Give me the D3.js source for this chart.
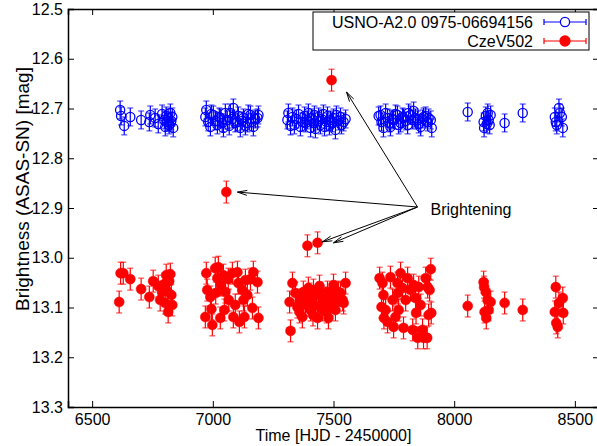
<!DOCTYPE html>
<html><head><meta charset="utf-8">
<script src="https://cdn.jsdelivr.net/npm/d3@7"></script>
<style>
body{margin:0;background:#fff;}
text{font-family:"Liberation Sans",Arial,sans-serif;}
</style></head>
<body><svg id="c" width="597" height="446"></svg>
<script>
// ---- data ----
const seriesNames = ["USNO-A2.0 0975-06694156", "CzeV502"];
const xTicks = [6500, 7000, 7500, 8000, 8500];
const yTicks = [12.5, 12.6, 12.7, 12.8, 12.9, 13.0, 13.1, 13.2, 13.3];
const yTickLabels = ["12.5","12.6","12.7","12.8","12.9","13.0","13.1","13.2","13.3"];

const blueT = [6616,6620,6633,6658,6703,6737,6741,6761,6774,6790,6799,6803,6807,6811,6815,6819,6824,6828,6832,6836,6826,
 6969,6973,6981,6990,6994,7002,7010,7019,7027,7031,7039,7044,7052,7060,7068,7073,7081,7085,7093,7102,7106,7114,7122,7127,7135,7143,7147,7156,7160,7168,7176,7185,7189,
 7309,7313,7322,7330,7338,7346,7355,7363,7371,7380,7384,7392,7396,7405,7409,7417,7421,7425,7434,7438,7446,7450,7458,7463,7471,7475,7483,7488,7496,7500,7508,7512,7521,7529,7533,7542,7550,
 7687,7695,7699,7707,7716,7724,7732,7736,7745,7749,7757,7765,7770,7778,7786,7790,7799,7807,7811,7819,7828,7832,7840,7849,7853,7861,7869,7873,7882,7890,7894,7903,7907,
 8056,8122,8124,8131,8135,8139,8143,8147,8151,8209,8284,
 8417,8421,8425,8434,8438,8446,8450];
const blueM = [12.703,12.715,12.735,12.717,12.723,12.727,12.713,12.719,12.731,12.711,12.723,12.737,12.715,12.727,12.719,12.733,12.709,12.725,12.717,12.739,12.729,
 12.717,12.703,12.727,12.737,12.711,12.713,12.725,12.733,12.717,12.719,12.729,12.739,12.709,12.723,12.735,12.709,12.721,12.699,12.729,12.727,12.715,12.739,12.725,12.719,12.735,12.729,12.711,12.713,12.727,12.737,12.721,12.719,12.713,
 12.723,12.709,12.735,12.717,12.733,12.721,12.711,12.737,12.727,12.715,12.729,12.723,12.709,12.739,12.719,12.729,12.713,12.741,12.725,12.717,12.733,12.721,12.711,12.737,12.727,12.715,12.735,12.723,12.729,12.719,12.743,12.713,12.725,12.717,12.733,12.727,12.721,
 12.715,12.713,12.727,12.739,12.709,12.719,12.729,12.737,12.721,12.723,12.711,12.713,12.733,12.729,12.717,12.719,12.725,12.733,12.709,12.713,12.723,12.705,12.719,12.723,12.731,12.737,12.721,12.717,12.715,12.727,12.719,12.723,12.739,
 12.707,12.727,12.739,12.715,12.731,12.709,12.723,12.733,12.713,12.729,12.709,
 12.717,12.727,12.733,12.699,12.709,12.717,12.739];
const blueErr = 0.018;

const redT = [6612,6618,6629,6658,6703,6737,6753,6774,6782,6790,6799,6807,6815,6824,6828,6832,6811,6819,6803,
 7056,
 6973,6977,6969,6990,6994,6998,7010,7023,7019,7031,7044,7052,7048,7064,7081,7085,7102,7106,7110,7122,7127,7135,7131,7156,7164,7168,7185,7189,7012,7066,7093,7143,7033,
 7322,7330,7318,7342,7350,7371,7375,7392,7405,7417,7434,7446,7458,7475,7479,7500,7517,7529,7542,7550,7363,7384,7396,7413,7425,7438,7454,7467,7488,7496,7508,7521,7538,7359,7415,7471,7442,7400,
 7392,7434,7492,
 7691,7703,7707,7699,7709,7724,7736,7749,7765,7767,7757,7778,7786,7770,7790,7799,7807,7828,7832,7840,7842,7849,7853,7861,7869,7873,7882,7890,7894,7903,7898,7905,7888,7819,7745,7716,
 8056,8122,8124,8131,8126,8133,8139,8143,8151,8209,8284,
 8421,8417,8423,8429,8434,8450,8452];
const redM = [13.089,13.031,13.031,13.043,13.063,13.079,13.047,13.057,13.085,13.069,13.053,13.035,13.109,13.033,13.075,13.095,13.067,13.047,13.091,
 12.868,
 13.031,13.065,13.119,13.079,13.103,13.135,13.021,13.019,13.041,13.121,13.035,13.069,13.105,13.043,13.031,13.119,13.029,13.051,13.129,13.065,13.085,13.045,13.119,13.043,13.101,13.029,13.049,13.121,13.071,13.085,13.095,13.075,13.055,
 13.147,13.051,13.089,13.071,13.099,13.119,13.069,13.079,13.105,13.065,13.121,13.071,13.089,13.069,13.121,13.055,13.089,13.071,13.091,13.051,13.085,13.095,13.061,13.085,13.097,13.075,13.105,13.081,13.095,13.077,13.105,13.069,13.085,13.109,13.115,13.109,13.057,13.073,
 12.976,12.970,12.643,
 13.041,13.051,13.075,13.099,13.121,13.129,13.039,13.139,13.051,13.071,13.119,13.031,13.061,13.105,13.141,13.085,13.041,13.145,13.055,13.081,13.111,13.161,13.059,13.095,13.145,13.161,13.041,13.059,13.115,13.023,13.065,13.111,13.161,13.065,13.085,13.105,
 13.097,13.049,13.059,13.069,13.109,13.121,13.085,13.105,13.089,13.091,13.105,
 13.059,13.109,13.131,13.139,13.091,13.081,13.111];
const redErr = 0.022;

// annotation: label position and arrow tips (data units)
const noteText = "Brightening";
const noteFrom = [7848, 12.898];
const noteTips = [[7554, 12.667], [7102, 12.868], [7454, 12.968], [7500, 12.970]];

// ---- drawing ----
const svg = d3.select("#c");
const L = 68, R = 599, T = 9, B = 407;
const x = d3.scaleLinear().domain([6400, 8600]).range([L, R]);
const y = d3.scaleLinear().domain([12.5, 13.3]).range([T, B]);

const blue = blueT.map((t, i) => ({t, m: blueM[i], e: blueErr}));
const red = redT.map((t, i) => ({t, m: redM[i], e: redErr}));

function drawSeries(data, color, filled) {
  const g = svg.append("g");
  const eb = g.selectAll("g.eb").data(data).join("g");
  eb.append("line").attr("x1", d => x(d.t)).attr("x2", d => x(d.t))
    .attr("y1", d => y(d.m - d.e)).attr("y2", d => y(d.m + d.e))
    .attr("stroke", color).attr("stroke-width", 1.2);
  [-1, 1].forEach(s => {
    eb.append("line").attr("x1", d => x(d.t) - 3).attr("x2", d => x(d.t) + 3)
      .attr("y1", d => y(d.m + s * d.e)).attr("y2", d => y(d.m + s * d.e))
      .attr("stroke", color).attr("stroke-width", 1.2).attr("stroke-opacity", 0.7);
  });
  g.selectAll("circle").data(data).join("circle")
    .attr("cx", d => x(d.t)).attr("cy", d => y(d.m))
    .attr("r", filled ? 5 : 4.6)
    .attr("fill", filled ? color : "none")
    .attr("stroke", color).attr("stroke-width", filled ? 0.5 : 1.3);
}
drawSeries(blue, "#0000ff", false);
drawSeries(red, "#ff0000", true);

// axes
const axG = svg.append("g");
const xb = axG.append("g").attr("transform", `translate(0,${B})`)
  .call(d3.axisBottom(x).tickValues(xTicks).tickSize(-6).tickPadding(7).tickFormat(d3.format("d")));
axG.append("g").attr("transform", `translate(0,${T})`)
  .call(d3.axisTop(x).tickValues(xTicks).tickSize(-6).tickFormat(""));
axG.append("g").attr("transform", `translate(${L},0)`)
  .call(d3.axisLeft(y).tickValues(yTicks).tickSize(-6).tickPadding(5).tickFormat((d, i) => yTickLabels[i]));
axG.append("g").attr("transform", `translate(${R},0)`)
  .call(d3.axisRight(y).tickValues(yTicks).tickSize(-6).tickFormat(""));
axG.selectAll(".domain").attr("stroke", "#000").attr("stroke-width", 1.5);
axG.selectAll(".tick line").attr("stroke", "#000").attr("stroke-width", 1);
axG.selectAll(".tick text").attr("font-size", 16).attr("fill", "#000")
  .attr("font-family", "Liberation Sans, Arial, sans-serif");
xb.selectAll(".tick text").attr("dy", "0.71em");

// axis titles
svg.append("text").attr("x", (L + R) / 2).attr("y", 441).attr("text-anchor", "middle")
  .attr("font-size", 16).text("Time [HJD - 2450000]");
svg.append("text").attr("transform", `translate(29,189) rotate(-90)`)
  .attr("text-anchor", "middle").attr("font-size", 19).text("Brightness (ASAS-SN) [mag]");

// annotation arrows
const ag = svg.append("g").attr("stroke", "#000").attr("stroke-width", 1).attr("fill", "none");
noteTips.forEach(tp => {
  const x0 = x(noteFrom[0]), y0 = y(noteFrom[1]), x1 = x(tp[0]), y1 = y(tp[1]);
  ag.append("line").attr("x1", x0).attr("y1", y0).attr("x2", x1).attr("y2", y1);
  const a = Math.atan2(y0 - y1, x0 - x1), len = 10, sp = 0.25;
  ag.append("path").attr("d",
    `M${x1 + len * Math.cos(a - sp)},${y1 + len * Math.sin(a - sp)}L${x1},${y1}L${x1 + len * Math.cos(a + sp)},${y1 + len * Math.sin(a + sp)}`);
});
svg.append("text").attr("x", x(noteFrom[0]) + 13).attr("y", y(noteFrom[1]) + 8)
  .attr("font-size", 16).text(noteText);

// legend
const lg = svg.append("g");
lg.append("rect").attr("x", 313).attr("y", 12).attr("width", 276).attr("height", 38)
  .attr("fill", "#fff").attr("stroke", "#000").attr("stroke-width", 1);
const legItems = [{name: seriesNames[0], color: "#0000ff", filled: false, yy: 22},
                  {name: seriesNames[1], color: "#ff0000", filled: true, yy: 41}];
legItems.forEach(it => {
  lg.append("text").attr("x", 533).attr("y", it.yy + 6).attr("text-anchor", "end")
    .attr("font-size", 16).text(it.name);
  lg.append("line").attr("x1", 544).attr("x2", 586).attr("y1", it.yy).attr("y2", it.yy)
    .attr("stroke", it.color).attr("stroke-width", 1.2);
  [544, 586].forEach(xx => lg.append("line").attr("x1", xx).attr("x2", xx)
    .attr("y1", it.yy - 3).attr("y2", it.yy + 3).attr("stroke", it.color).attr("stroke-width", 1.2));
  lg.append("circle").attr("cx", 565).attr("cy", it.yy).attr("r", it.filled ? 5 : 4.6)
    .attr("fill", it.filled ? it.color : "#fff").attr("stroke", it.color).attr("stroke-width", 1.3);
});
</script></body></html>
